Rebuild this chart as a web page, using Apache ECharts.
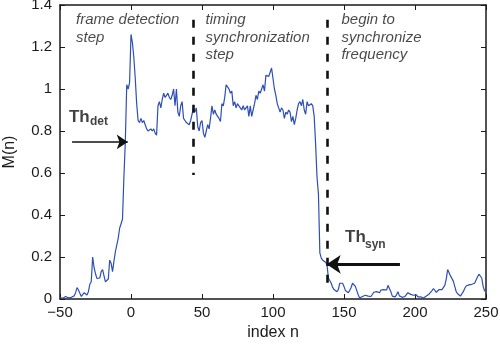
<!DOCTYPE html>
<html>
<head>
<meta charset="utf-8">
<script src="https://cdn.jsdelivr.net/npm/echarts@6/dist/echarts.min.js"></script>
<style>
html,body{margin:0;padding:0;background:#fff;}
#c{width:500px;height:347px;}
</style>
</head>
<body>
<div id="c"></div>
<script>
// ---- data ----
const indexStart = -50;
const mValues = [
 0.005,0.008,0.004,0.01,0.012,0.008,0.005,0.01,0.008,0.01,
 0.015,0.03,0.054,0.043,0.027,0.012,0.02,0.03,0.035,0.019,
 0.035,0.07,0.082,0.2,0.15,0.12,0.098,0.106,0.1,0.13,
 0.14,0.11,0.082,0.082,0.095,0.185,0.17,0.13,0.18,0.225,
 0.233,0.29,0.337,0.335,0.38,0.58,0.75,1.02,1.0,1.03,
 1.26,1.22,1.15,1.05,0.93,0.85,0.84,0.86,0.84,0.85,
 0.83,0.81,0.8,0.8,0.81,0.8,0.81,0.79,0.78,0.92,
 0.94,0.91,0.95,0.98,0.96,0.97,0.98,0.96,0.95,0.97,
 1.0,0.92,1.0,0.89,0.87,0.92,0.94,0.86,0.85,0.84,
 0.84,0.83,0.85,0.85,0.91,0.89,0.91,0.82,0.8,0.84,
 0.85,0.79,0.77,0.8,0.83,0.81,0.86,0.92,0.88,0.9,
 0.88,0.87,0.86,0.845,0.93,0.92,0.96,1.02,1.01,1.0,
 0.98,0.99,0.92,0.94,0.91,0.93,0.92,0.91,0.9,0.92,
 0.9,0.91,0.92,0.87,0.92,0.87,0.9,0.93,0.97,0.95,
 0.99,0.98,0.98,1.02,0.99,1.065,1.07,1.06,1.08,1.1,
 1.05,1.0,0.97,0.93,0.91,0.89,0.91,0.9,0.86,0.89,
 0.88,0.9,0.89,0.845,0.87,0.83,0.86,0.9,0.93,0.94,
 0.92,0.95,0.9,0.88,0.94,0.92,0.92,0.93,0.92,0.87,
 0.74,0.58,0.5,0.22,0.195,0.185,0.19,0.175,0.165,0.1,
 0.095,0.075,0.055,0.045,0.04,0.035,0.045,0.075,0.083,0.075,
 0.06,0.04,0.032,0.03,0.04,0.055,0.075,0.078,0.06,0.04,
 0.02,0.005,0.003,0.012,0.02,0.018,0.011,0.014,0.01,0.012,
 0.02,0.032,0.04,0.035,0.038,0.03,0.043,0.04,0.045,0.046,
 0.043,0.065,0.06,0.035,0.014,0.008,0.01,0.02,0.035,0.015,
 0.006,0.008,0.01,0.012,0.02,0.03,0.035,0.022,0.015,0.018,
 0.024,0.02,0.01,0.012,0.01,0.006,0.005,0.011,0.014,0.022,
 0.024,0.03,0.04,0.05,0.043,0.032,0.035,0.045,0.04,0.045,
 0.05,0.065,0.095,0.14,0.14,0.11,0.106,0.085,0.06,0.035,
 0.025,0.019,0.014,0.017,0.035,0.05,0.062,0.07,0.067,0.06,
 0.07,0.065,0.075,0.09,0.105,0.118,0.125,0.1,0.06,0.038,
 0.04
];
const xTicks = [-50, 0, 50, 100, 150, 200, 250];
const yTicks = [0, 0.2, 0.4, 0.6, 0.8, 1, 1.2, 1.4];
// step boundaries (index n) and thresholds
const stepBoundaries = [44, 138];
const thDet = 0.748;
const thSyn = 0.165;

// ---- chart ----
const seriesData = mValues.map((v, i) => [indexStart + i, v]);
const ink = '#1a1a1a';
const font = 'Liberation Sans, Arial, Helvetica, sans-serif';

function note(x, y, text, rich) {
  return {
    type: 'scatter', xAxisIndex: 0, yAxisIndex: 0, silent: true,
    symbolSize: 0, data: [[x, y]], z: 10,
    label: {
      show: true, position: [0, 0], align: 'left', verticalAlign: 'top',
      formatter: text, rich: rich, color: ink, fontFamily: font
    }
  };
}
const italicRich = { t: { fontSize: 15, fontStyle: 'italic', lineHeight: 17.5, color: ink, fontFamily: font } };
const thRich = { t: { fontSize: 17, fontWeight: 'bold', lineHeight: 17, color: '#111', fontFamily: font } };
const subRich = { t: { fontSize: 12, fontWeight: 'bold', lineHeight: 12, color: '#111', fontFamily: font } };

const chart = echarts.init(document.getElementById('c'), null, { renderer: 'canvas' });
const axisLineStyle = { color: ink, width: 1.5 };
const option = {
  animation: false,
  backgroundColor: '#fff',
  grid: { left: 60, right: 14, top: 5, bottom: 48, containLabel: false, outerBoundsMode: 'none' },
  xAxis: [
    {
      type: 'value', min: -50, max: 250, interval: 50, position: 'bottom',
      axisLine: { show: true, onZero: false, lineStyle: axisLineStyle },
      axisTick: { show: true, inside: true, length: 5, lineStyle: { color: ink, width: 1 } },
      splitLine: { show: false },
      axisLabel: {
        color: ink, fontSize: 15, fontFamily: font, margin: 6,
        formatter: v => xTicks.includes(v) ? (v < 0 ? '\u2212' + Math.abs(v) : String(v)) : ''
      },
      name: 'index n', nameLocation: 'middle', nameGap: 24,
      nameTextStyle: { color: ink, fontSize: 16, fontFamily: font }
    },
    {
      type: 'value', min: -50, max: 250, interval: 50, position: 'top',
      axisLine: { show: true, onZero: false, lineStyle: axisLineStyle },
      axisTick: { show: true, inside: true, length: 5, lineStyle: { color: ink, width: 1 } },
      splitLine: { show: false }, axisLabel: { show: false }
    }
  ],
  yAxis: [
    {
      type: 'value', min: 0, max: 1.4, interval: 0.2, position: 'left',
      axisLine: { show: true, onZero: false, lineStyle: axisLineStyle },
      axisTick: { show: true, inside: true, length: 5, lineStyle: { color: ink, width: 1 } },
      splitLine: { show: false },
      axisLabel: {
        color: ink, fontSize: 15, fontFamily: font, margin: 8,
        formatter: v => { const t = yTicks.find(k => Math.abs(k - v) < 1e-6); return t === undefined ? '' : String(t); }
      },
      name: 'M(n)', nameLocation: 'middle', nameGap: 42,
      nameTextStyle: { color: ink, fontSize: 16, fontFamily: font }
    },
    {
      type: 'value', min: 0, max: 1.4, interval: 0.2, position: 'right',
      axisLine: { show: true, onZero: false, lineStyle: axisLineStyle },
      axisTick: { show: true, inside: true, length: 5, lineStyle: { color: ink, width: 1 } },
      splitLine: { show: false }, axisLabel: { show: false }
    }
  ],
  series: [
    {
      type: 'line', data: seriesData, showSymbol: false, symbol: 'none',
      lineStyle: { color: '#2e4fb4', width: 1.2 }, z: 3,
      markLine: {
        silent: true, symbol: 'none', label: { show: false }, animation: false,
        lineStyle: { color: '#111', width: 2.6, type: [8, 9] },
        data: [
          [{ coord: [stepBoundaries[0], 1.33] }, { coord: [stepBoundaries[0], 0.59] }],
          [{ coord: [stepBoundaries[1], 1.33] }, { coord: [stepBoundaries[1], 0.075] }]
        ]
      }
    },
    {
      type: 'line', data: [], z: 6,
      markLine: {
        silent: true, symbol: ['none', 'arrow'], symbolSize: 11, label: { show: false }, animation: false,
        lineStyle: { color: '#111', width: 1.6, type: 'solid' },
        data: [[{ coord: [-41.5, thDet] }, { coord: [-2.3, thDet] }]]
      }
    },
    {
      type: 'line', data: [], z: 6,
      markLine: {
        silent: true, symbol: ['none', 'arrow'], symbolSize: 14, label: { show: false }, animation: false,
        lineStyle: { color: '#111', width: 3, type: 'solid' },
        data: [[{ coord: [189.4, thSyn] }, { coord: [137.8, thSyn] }]]
      }
    },
    note(-38.7, 1.37, '{t|frame detection}\n{t|step}', italicRich),
    note(52.5, 1.37, '{t|timing}\n{t|synchronization}\n{t|step}', italicRich),
    note(148.2, 1.37, '{t|begin to}\n{t|synchronize}\n{t|frequency}', italicRich),
    note(-43.7, 0.907, '{t|Th}', thRich),
    note(-28.9, 0.872, '{t|det}', subRich),
    note(150.7, 0.335, '{t|Th}', thRich),
    note(164.8, 0.287, '{t|syn}', subRich)
  ]
};
chart.setOption(option);
</script>
</body>
</html>
